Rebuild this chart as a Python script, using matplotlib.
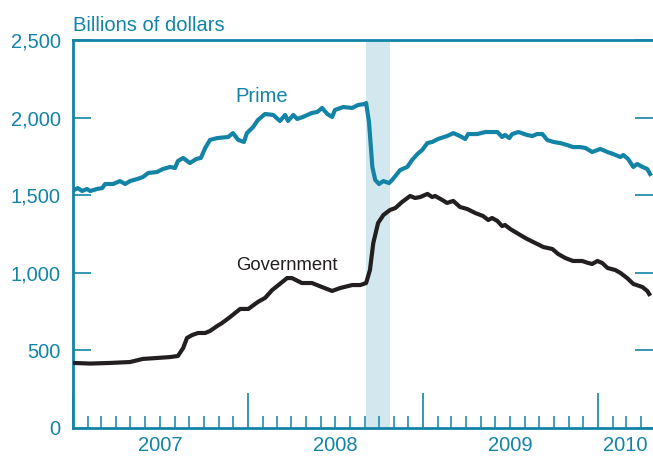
import matplotlib
matplotlib.use("Agg")
from matplotlib import pyplot as plt
import matplotlib.dates as mdates
import matplotlib.ticker as mticker
import pandas as pd

plt.rcParams["font.family"] = ["Liberation Sans", "DejaVu Sans"]

TEAL = "#1384a6"
BLACK = "#231f20"
SHADE = "#d3e7ef"
FS = 14.5

# Prime money fund assets, billions of dollars
prime_dates = [
    "2007-01-03", "2007-01-11", "2007-01-20", "2007-01-30", "2007-02-06", "2007-02-20",
    "2007-03-03", "2007-03-09", "2007-03-26", "2007-04-09", "2007-04-20", "2007-04-30",
    "2007-05-15", "2007-05-27", "2007-06-07", "2007-06-25", "2007-07-08", "2007-07-23",
    "2007-08-02", "2007-08-08", "2007-08-19", "2007-09-02", "2007-09-15", "2007-09-25",
    "2007-10-04", "2007-10-14", "2007-10-29", "2007-11-21", "2007-12-01", "2007-12-12",
    "2007-12-24", "2007-12-30", "2008-01-12", "2008-01-22", "2008-02-06", "2008-02-23",
    "2008-03-08", "2008-03-19", "2008-03-25", "2008-04-05", "2008-04-13", "2008-04-25",
    "2008-05-14", "2008-05-25", "2008-06-04", "2008-06-15", "2008-06-25", "2008-07-01",
    "2008-07-18", "2008-08-06", "2008-08-18", "2008-09-02", "2008-09-04", "2008-09-10",
    "2008-09-17", "2008-09-23", "2008-10-01", "2008-10-10", "2008-10-22", "2008-10-30",
    "2008-11-14", "2008-11-29", "2008-12-09", "2008-12-20", "2008-12-30", "2009-01-10",
    "2009-01-20", "2009-02-01", "2009-02-20", "2009-03-05", "2009-03-19", "2009-03-30",
    "2009-04-05", "2009-04-24", "2009-05-11", "2009-06-05", "2009-06-15", "2009-06-21",
    "2009-06-30", "2009-07-06", "2009-07-19", "2009-08-06", "2009-08-17", "2009-08-27",
    "2009-09-07", "2009-09-17", "2009-09-30", "2009-10-14", "2009-10-29", "2009-11-10",
    "2009-11-25", "2009-12-06", "2009-12-20", "2010-01-06", "2010-01-21", "2010-02-02",
    "2010-02-17", "2010-02-23", "2010-03-05", "2010-03-16", "2010-03-24", "2010-04-04",
    "2010-04-14", "2010-04-20",
]
prime_values = [
    1533, 1546, 1527, 1540, 1527, 1540,
    1546, 1572, 1572, 1591, 1572, 1591,
    1604, 1617, 1643, 1649, 1669, 1682,
    1675, 1720, 1740, 1707, 1733, 1740,
    1804, 1856, 1868, 1875, 1900, 1856,
    1843, 1900, 1939, 1984, 2023, 2017,
    1978, 2017, 1978, 2017, 1991, 2004,
    2030, 2036, 2062, 2023, 2004, 2049,
    2068, 2062, 2081, 2088, 2094, 1972,
    1682, 1598, 1572, 1591, 1578, 1604,
    1662, 1682, 1727, 1765, 1791, 1836,
    1843, 1862, 1881, 1900, 1881, 1862,
    1894, 1894, 1907, 1907, 1875, 1888,
    1868, 1894, 1907, 1888, 1881, 1894,
    1894, 1856, 1843, 1836, 1823, 1810,
    1810, 1804, 1778, 1798, 1778, 1765,
    1746, 1759, 1733, 1682, 1701, 1682,
    1669, 1636,
]

# Government money fund assets, billions of dollars
gov_dates = [
    "2007-01-03", "2007-02-06", "2007-03-19", "2007-04-30", "2007-05-27", "2007-06-25",
    "2007-07-23", "2007-08-08", "2007-08-19", "2007-08-27", "2007-09-07", "2007-09-19",
    "2007-10-04", "2007-10-14", "2007-10-29", "2007-11-08", "2007-11-25", "2007-12-16",
    "2008-01-02", "2008-01-22", "2008-02-06", "2008-02-21", "2008-03-13", "2008-03-23",
    "2008-04-02", "2008-04-23", "2008-05-14", "2008-06-04", "2008-06-25", "2008-07-12",
    "2008-08-06", "2008-08-23", "2008-09-04", "2008-09-12", "2008-09-19", "2008-09-29",
    "2008-10-10", "2008-10-24", "2008-11-04", "2008-11-18", "2008-12-05", "2008-12-15",
    "2008-12-26", "2009-01-10", "2009-01-20", "2009-01-26", "2009-02-10", "2009-02-20",
    "2009-03-05", "2009-03-19", "2009-04-03", "2009-04-20", "2009-05-06", "2009-05-17",
    "2009-05-25", "2009-06-05", "2009-06-15", "2009-06-21", "2009-07-02", "2009-07-23",
    "2009-08-06", "2009-08-23", "2009-09-09", "2009-09-28", "2009-10-10", "2009-10-25",
    "2009-11-10", "2009-11-29", "2009-12-12", "2009-12-20", "2009-12-31", "2010-01-10",
    "2010-01-21", "2010-02-06", "2010-02-17", "2010-03-03", "2010-03-16", "2010-04-04",
    "2010-04-14", "2010-04-18",
]
gov_values = [
    419, 415, 419, 425, 445, 451,
    457, 464, 515, 580, 599, 612,
    612, 625, 657, 676, 715, 767,
    767, 812, 838, 889, 941, 966,
    966, 934, 934, 908, 883, 902,
    921, 921, 934, 1018, 1192, 1321,
    1372, 1405, 1417, 1456, 1495, 1482,
    1488, 1508, 1488, 1495, 1469, 1450,
    1463, 1424, 1411, 1385, 1366, 1340,
    1353, 1334, 1301, 1308, 1282, 1243,
    1218, 1192, 1166, 1153, 1121, 1095,
    1076, 1076, 1063, 1057, 1076, 1063,
    1031, 1018, 999, 966, 928, 908,
    883, 863,
]

shade_start, shade_end = "2008-09-04", "2008-10-24"
years = ["2007", "2008", "2009", "2010"]
year_centers = ["2007-07-02", "2008-07-02", "2009-07-02", "2010-02-27"]
yticks = [0, 500, 1000, 1500, 2000, 2500]

fig = plt.figure(figsize=(6.53, 4.57), dpi=100)
ax = fig.add_axes([0.1118, 0.0635, 0.8882, 0.849])

ax.axvspan(pd.Timestamp(shade_start), pd.Timestamp(shade_end), color=SHADE, lw=0, zorder=0)
ax.plot(pd.to_datetime(prime_dates), prime_values, color=TEAL, lw=3, zorder=3,
        solid_joinstyle="round")
ax.plot(pd.to_datetime(gov_dates), gov_values, color=BLACK, lw=3, zorder=3,
        solid_joinstyle="round")

ax.set_xlim(pd.Timestamp("2007-01-01"), pd.Timestamp("2010-04-26"))
ax.set_ylim(0, 2500)

for side in ["left", "bottom", "top"]:
    ax.spines[side].set_color(TEAL)
    ax.spines[side].set_linewidth(2)
ax.spines["right"].set_visible(False)

ax.set_yticks(yticks)
ax.yaxis.set_major_formatter(mticker.StrMethodFormatter("{x:,.0f}"))
ax.tick_params(axis="y", which="major", direction="in", length=13, width=1.2,
               color=TEAL, labelcolor=TEAL, labelsize=FS, pad=9, right=True)

ax.xaxis.set_major_locator(mdates.YearLocator())
ax.xaxis.set_minor_locator(mdates.MonthLocator())
ax.xaxis.set_major_formatter(mticker.NullFormatter())
ax.tick_params(axis="x", which="major", direction="in", length=25, width=1.2, color=TEAL)
ax.tick_params(axis="x", which="minor", direction="in", length=9, width=1.1, color=TEAL)

for yr, c in zip(years, year_centers):
    ax.text(pd.Timestamp(c), -0.045, yr, transform=ax.get_xaxis_transform(),
            ha="center", va="center", fontsize=FS, color=TEAL)

ax.text(0, 1.012, "Billions of dollars", transform=ax.transAxes, ha="left", va="bottom",
        fontsize=FS, color=TEAL)
ax.text(pd.Timestamp("2007-12-07"), 2133, "Prime", ha="left", va="center",
        fontsize=FS, color=TEAL)
ax.text(pd.Timestamp("2007-12-07"), 1050, "Government", ha="left", va="center",
        fontsize=13.3, color=BLACK)

fig.savefig("out.png", dpi=100)
